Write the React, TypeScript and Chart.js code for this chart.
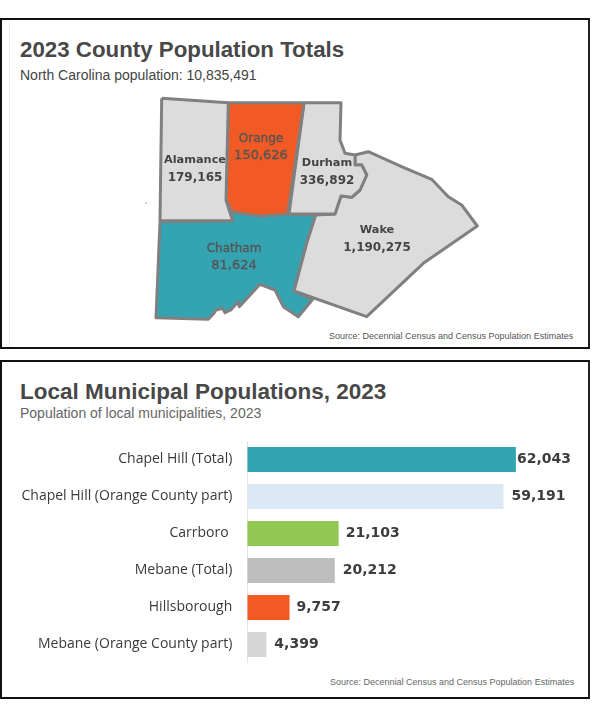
import React, { useEffect, useRef } from "react";
import { Chart, registerables } from "chart.js";

Chart.register(...registerables);

type P = [number, number];

// County outlines in map units
const alamance: P[] = [[161.7,98.3],[228.3,102.7],[226,200],[232.7,220.7],[160,220.7],[161.7,98.3]];
const orange: P[] = [[228.3,102.7],[304,102.7],[287.7,214.3],[260,216],[232,212],[226,200],[228.3,102.7]];
const durham: P[] = [[304,102.7],[341,102.7],[340,140],[345,153.3],[355,155],[355,165],[361.7,165],[366.7,175],[360,190],[351.7,197.3],[341,196],[335,214],[289,214],[304,102.7]];
const wake: P[] = [[355,155],[368.3,151.7],[403.3,167.3],[431.7,179.3],[448.3,196.7],[461.7,205],[477.3,226],[423.3,263.3],[366.7,316.7],[294,291],[306.7,243.3],[315.7,215],[335,214],[341,196],[351.7,197.3],[360,190],[366.7,175],[361.7,165],[355,165],[355,155]];
const chatham: P[] = [[160,221.7],[232.7,220.7],[232,212],[260,216],[287.7,214.3],[315.7,215],[306.7,243.3],[294,291],[312.7,299.3],[298.3,316.7],[283.3,306.7],[275,290],[260,284.3],[239.3,306.7],[238.3,301.7],[230.7,310],[225,312.7],[222.7,308.3],[216,310],[214,313.3],[208.3,319.3],[156,317.7],[160,221.7]];
const speck: P[] = [[146,203]];

const countyNames = ["Alamance", "Orange", "Durham", "Wake", "Chatham"];
const countyPops = ["179,165", "150,626", "336,892", "1,190,275", "81,624"];
const countyLabelAt: P[] = [[195,160],[261,138.5],[327,163.5],[377,230.5],[234,248.5]];
const countyColors = ["#dcdcdc", "#f15a24", "#dcdcdc", "#dcdcdc", "#35a4b2"];
const countyShapes = [alamance, orange, durham, wake, chatham];

const municipalities = ["Chapel Hill (Total)", "Chapel Hill (Orange County part)", "Carrboro ", "Mebane (Total)", "Hillsborough", "Mebane (Orange County part)"];
const municipalValues = [62043, 59191, 21103, 20212, 9757, 4399];
const municipalColors = ["#35a4b2", "#dce9f4", "#92c954", "#bdbdbd", "#f15a24", "#d6d6d6"];

const ink = "#484848";
const SANS = '"Liberation Sans", Arial, sans-serif';

const mapLabels = {
  id: "mapLabels",
  afterDatasetsDraw(chart: any) {
    const { ctx, scales } = chart;
    ctx.save();
    ctx.textAlign = "center";
    ctx.textBaseline = "middle";
    countyNames.forEach((n, i) => {
      const x = scales.x.getPixelForValue(countyLabelAt[i][0]);
      const y = scales.y.getPixelForValue(countyLabelAt[i][1]);
      const colored = i === 1 || i === 4;
      ctx.fillStyle = colored ? "#555555" : "#444444";
      ctx.strokeStyle = "#555555";
      ctx.lineWidth = 0.35;
      ctx.font = colored ? '12px "DejaVu Sans"' : 'bold 11.3px "DejaVu Sans"';
      ctx.fillText(n, x, y);
      if (colored) ctx.strokeText(n, x, y);
      ctx.font = colored ? '13px "DejaVu Sans"' : 'bold 12px "DejaVu Sans"';
      ctx.fillText(countyPops[i], x, y + 17.5);
      if (colored) ctx.strokeText(countyPops[i], x, y + 17.5);
    });
    ctx.restore();
  },
};

const barLabels = {
  id: "barLabels",
  afterDatasetsDraw(chart: any) {
    const { ctx } = chart;
    const bars = chart.getDatasetMeta(0).data;
    ctx.save();
    ctx.fillStyle = "#3c3c3c";
    ctx.font = 'bold 14px "DejaVu Sans"';
    ctx.textBaseline = "middle";
    const gaps = [1, 8, 7, 8, 7, 8];
    bars.forEach((b: any, i: number) => {
      ctx.fillText(municipalValues[i].toLocaleString("en-US"), b.x + gaps[i], b.y);
    });
    ctx.restore();
  },
};

const abs = (left: number, top: number, extra: React.CSSProperties = {}): React.CSSProperties => ({
  position: "absolute", left, top, whiteSpace: "pre", fontFamily: SANS, lineHeight: 1, ...extra,
});

export default function App() {
  const mapRef = useRef<HTMLCanvasElement>(null);
  const barRef = useRef<HTMLCanvasElement>(null);

  useEffect(() => {
    const map = new Chart(mapRef.current!, {
      type: "scatter",
      data: {
        datasets: [
          ...countyShapes.map((s, i) => ({
            label: countyNames[i],
            data: s.map(([x, y]) => ({ x, y })),
            showLine: true,
            fill: "shape",
            backgroundColor: countyColors[i],
            borderColor: "#808080",
            borderWidth: 3,
            borderJoinStyle: "round",
            pointRadius: 0,
            tension: 0,
          })),
          {
            label: "speck",
            data: speck.map(([x, y]) => ({ x, y })),
            pointRadius: 0.8,
            pointBackgroundColor: "#999999",
            pointBorderWidth: 0,
          },
        ],
      } as any,
      options: {
        animation: false,
        responsive: false,
        layout: { autoPadding: false, padding: 0 },
        plugins: { legend: { display: false }, tooltip: { enabled: false } },
        scales: {
          x: { type: "linear", display: false, min: 140, max: 490 },
          y: { type: "linear", display: false, reverse: true, min: 90, max: 330 },
        },
      },
      plugins: [mapLabels],
    });

    const bar = new Chart(barRef.current!, {
      type: "bar",
      data: {
        labels: municipalities,
        datasets: [{
          data: municipalValues,
          backgroundColor: municipalColors,
          barPercentage: 25 / 37,
          categoryPercentage: 1,
        }],
      },
      options: {
        indexAxis: "y",
        animation: false,
        responsive: false,
        layout: { autoPadding: false, padding: { left: 0, top: 0, bottom: 0, right: 27 } },
        plugins: { legend: { display: false }, tooltip: { enabled: false } },
        scales: {
          x: { min: 0, max: 75000, display: false, grid: { display: false } },
          y: {
            afterFit(s: any) { s.width = 247.3; s.paddingTop = 0; s.paddingBottom = 0; },
            grid: { display: false, drawTicks: false },
            border: { color: "#e4e4e4", width: 1 },
            ticks: {
              padding: 15,
              color: "#3a3a3a",
              autoSkip: false,
              font: { family: '"Open Sans"', size: 14 },
            },
          },
        },
      },
      plugins: [barLabels],
    });

    return () => { map.destroy(); bar.destroy(); };
  }, []);

  const panel = (top: number, height: number): React.CSSProperties => ({
    position: "absolute", left: 0, top, width: 590, height, boxSizing: "border-box",
    borderTop: "2px solid #111", borderBottom: "2px solid #111",
    borderLeft: "2px solid #111", borderRight: "2px solid #222",
    background: "#fff",
  });

  return (
    <div style={{ position: "absolute", left: 0, top: 0, width: 599, height: 717, background: "#fff", overflow: "hidden" }}>
      <div style={panel(18, 331)} />
      <div style={panel(360, 339)} />
      <div style={{ position: "absolute", left: 9, top: 21, width: 1, height: 326, background: "#eeeeee" }} />

      <div style={abs(20, 39, { fontSize: 22.3, fontWeight: 700, color: ink })}>2023 County Population Totals</div>
      <div style={abs(20, 68, { fontSize: 14, color: "#444" })}>North Carolina population: 10,835,491</div>
      <canvas ref={mapRef} width={350} height={240} style={{ position: "absolute", left: 140, top: 90, width: 350, height: 240 }} />
      <div style={abs(329, 332, { fontSize: 9, color: "#555" })}>Source: Decennial Census and Census Population Estimates</div>

      <div style={abs(20, 381, { fontSize: 22.5, fontWeight: 700, color: ink })}>Local Municipal Populations, 2023</div>
      <div style={abs(20, 406, { fontSize: 14, color: "#666" })}>Population of local municipalities, 2023</div>
      <canvas ref={barRef} width={599} height={222} style={{ position: "absolute", left: 0, top: 441, width: 599, height: 222 }} />
      <div style={abs(330, 678, { fontSize: 9, color: "#666" })}>Source: Decennial Census and Census Population Estimates</div>
    </div>
  );
}
